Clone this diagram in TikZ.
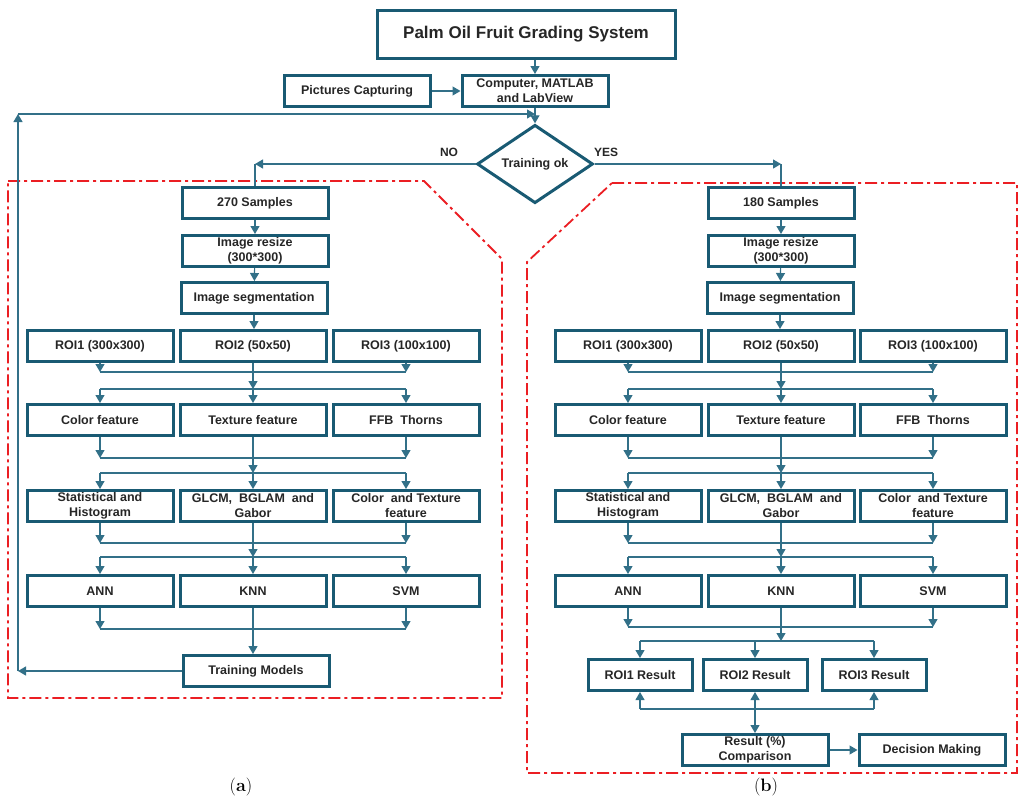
\documentclass[tikz,border=0pt]{standalone}
\usepackage{fontspec}
\setsansfont{Liberation Sans}
\usepackage{xcolor}
\usepackage{tikz}
\usetikzlibrary{shapes.geometric, arrows.meta, positioning}

\definecolor{boxteal}{RGB}{25,90,115}
\definecolor{lineteal}{RGB}{50,112,136}
\definecolor{panelred}{RGB}{235,30,35}

\begin{document}
\begin{tikzpicture}[x=1pt, y=-1pt,
  block/.style={rectangle, draw=boxteal, line width=3pt, minimum width=146pt,
    minimum height=31pt, inner sep=0pt, align=center, text=black!85,
    font=\sffamily\bfseries\fontsize{12.5}{15}\selectfont},
  result/.style={block, minimum width=104pt},
  decide/.style={diamond, draw=boxteal, line width=3pt, minimum width=116pt,
    minimum height=78pt, inner sep=0pt, text=black!85,
    font=\sffamily\bfseries\fontsize{12.5}{15}\selectfont},
  tag/.style={font=\sffamily\bfseries\fontsize{12}{14}\selectfont, text=black!85},
  caption/.style={font=\rmfamily\fontsize{18}{21}\selectfont},
  arrow/.style={-{Triangle[length=8pt,width=9pt]}, line width=1.2pt, draw=lineteal},
  biarrow/.style={{Triangle[length=8pt,width=9pt]}-{Triangle[length=8pt,width=9pt]},
    line width=1.2pt, draw=lineteal},
  link/.style={line width=1.2pt, draw=lineteal},
  panel/.style={draw=panelred, line width=1.8pt, dash pattern=on 12pt off 4pt on 3pt off 4pt}
]
\useasboundingbox (0,0) rectangle (1020,804);

% dashed panels
\draw[panel] (8,181) -- (424,181) -- (502,259) -- (502,698) -- (8,698) -- cycle;
\draw[panel] (612,183) -- (1017,183) -- (1017,773) -- (527,773) -- (527,262) -- cycle;

% top part
\node[block, minimum width=298pt, minimum height=48pt,
  font=\sffamily\bfseries\fontsize{17}{20}\selectfont] (title) at (526,34) {Palm Oil Fruit Grading System};
\node[block] (pic) at (357,91) {Pictures Capturing};
\node[block] (cmp) at (535,91) {Computer, MATLAB\\and LabView};
\node[decide] (ok) at (535,164) {Training ok};
\node[tag] (no) at (449,152) {NO};
\node[tag] (yes) at (606,152) {YES};

% panel (a)
\node[block] (asmp) at (255,203) {270 Samples};
\node[block] (arsz) at (255,251) {Image resize\\(300*300)};
\node[block] (aseg) at (254,298) {Image segmentation};
\node[block] (aroi1) at (100,346) {ROI1 (300x300)};
\node[block] (aroi2) at (253,346) {ROI2 (50x50)};
\node[block] (aroi3) at (406,346) {ROI3 (100x100)};
\node[block] (afeat1) at (100,420) {Color feature};
\node[block] (afeat2) at (253,420) {Texture feature};
\node[block] (afeat3) at (406,420) {FFB~ Thorns};
\node[block] (astat1) at (100,506) {Statistical and\\Histogram};
\node[block] (astat2) at (253,506) {GLCM,~ BGLAM~ and\\Gabor};
\node[block] (astat3) at (406,506) {Color~ and Texture\\feature};
\node[block] (acls1) at (100,591) {ANN};
\node[block] (acls2) at (253,591) {KNN};
\node[block] (acls3) at (406,591) {SVM};
\node[block] (atrain) at (256,671) {Training Models};

% panel (b)
\node[block] (bsmp) at (781,203) {180 Samples};
\node[block] (brsz) at (781,251) {Image resize\\(300*300)};
\node[block] (bseg) at (780,298) {Image segmentation};
\node[block] (broi1) at (628,346) {ROI1 (300x300)};
\node[block] (broi2) at (781,346) {ROI2 (50x50)};
\node[block] (broi3) at (933,346) {ROI3 (100x100)};
\node[block] (bfeat1) at (628,420) {Color feature};
\node[block] (bfeat2) at (781,420) {Texture feature};
\node[block] (bfeat3) at (933,420) {FFB~ Thorns};
\node[block] (bstat1) at (628,506) {Statistical and\\Histogram};
\node[block] (bstat2) at (781,506) {GLCM,~ BGLAM~ and\\Gabor};
\node[block] (bstat3) at (933,506) {Color~ and Texture\\feature};
\node[block] (bcls1) at (628,591) {ANN};
\node[block] (bcls2) at (781,591) {KNN};
\node[block] (bcls3) at (933,591) {SVM};
\node[result] (bres1) at (640,675) {ROI1 Result};
\node[result] (bres2) at (755,675) {ROI2 Result};
\node[result] (bres3) at (874,675) {ROI3 Result};
\node[block] (bcomp) at (755,750) {Result (\%)\\Comparison};
\node[block] (bdec) at (932,750) {Decision Making};

\node[caption] (capa) at (241,787) {(\textbf{a})};
\node[caption] (capb) at (766,787) {(\textbf{b})};

% merge / split levels
\coordinate (fb) at (18,114);
\coordinate (am1) at (0,372); \coordinate (as1) at (0,389);
\coordinate (am2) at (0,458); \coordinate (as2) at (0,473);
\coordinate (am3) at (0,543); \coordinate (as3) at (0,557);
\coordinate (am4) at (0,629);
\coordinate (bm1) at (0,372); \coordinate (bs1) at (0,389);
\coordinate (bm2) at (0,458); \coordinate (bs2) at (0,473);
\coordinate (bm3) at (0,543); \coordinate (bs3) at (0,557);
\coordinate (bm4) at (0,627); \coordinate (bs4) at (0,641);
\coordinate (bq) at (0,709);

% top connectors
\draw[arrow] (cmp |- title.south) -- (cmp);
\draw[arrow] (pic) -- (cmp);
\draw[arrow] (cmp) -- (ok);
\draw[arrow] (ok.west) -- (ok.west -| asmp);
\draw[link] (ok.west -| asmp) -- (asmp);
\draw[arrow] (ok.east) -- (ok.east -| bsmp);
\draw[link] (ok.east -| bsmp) -- (bsmp);

% feedback loop
\draw[arrow] (atrain) -- (atrain -| fb);
\draw[arrow] (atrain -| fb) -- (fb);
\draw[arrow] (fb) -- (fb -| cmp);

% columns
\foreach \p in {a,b}{
  \draw[arrow] (\p smp) -- (\p rsz);
  \draw[arrow] (\p rsz) -- (\p seg);
  \draw[arrow] (\p seg) -- (\p seg |- \p roi2.north);
  \foreach \up/\dn/\k in {roi/feat/1, feat/stat/2, stat/cls/3}{
    \draw[arrow] (\p\up1) -- (\p\up1 |- \p m\k);
    \draw[arrow] (\p\up3) -- (\p\up3 |- \p m\k);
    \draw[link] (\p\up1 |- \p m\k) -- (\p\up3 |- \p m\k);
    \draw[arrow] (\p\up2) -- (\p\up2 |- \p s\k);
    \draw[link] (\p\dn1 |- \p s\k) -- (\p\dn3 |- \p s\k);
    \foreach \i in {1,2,3}
      \draw[arrow] (\p\dn\i |- \p s\k) -- (\p\dn\i);
  }
  \draw[arrow] (\p cls1) -- (\p cls1 |- \p m4);
  \draw[arrow] (\p cls3) -- (\p cls3 |- \p m4);
  \draw[link] (\p cls1 |- \p m4) -- (\p cls3 |- \p m4);
}
\draw[arrow] (acls2) -- (acls2 |- atrain.north);

% results of panel (b)
\draw[arrow] (bcls2) -- (bcls2 |- bs4);
\draw[link] (bres1 |- bs4) -- (bres3 |- bs4);
\draw[arrow] (bres1 |- bs4) -- (bres1);
\draw[arrow] (bres2 |- bs4) -- (bres2);
\draw[arrow] (bres3 |- bs4) -- (bres3);
\draw[link] (bres1 |- bq) -- (bres3 |- bq);
\draw[arrow] (bres1 |- bq) -- (bres1);
\draw[arrow] (bres3 |- bq) -- (bres3);
\draw[biarrow] (bres2) -- (bcomp);
\draw[arrow] (bcomp) -- (bdec);
\end{tikzpicture}
\end{document}
